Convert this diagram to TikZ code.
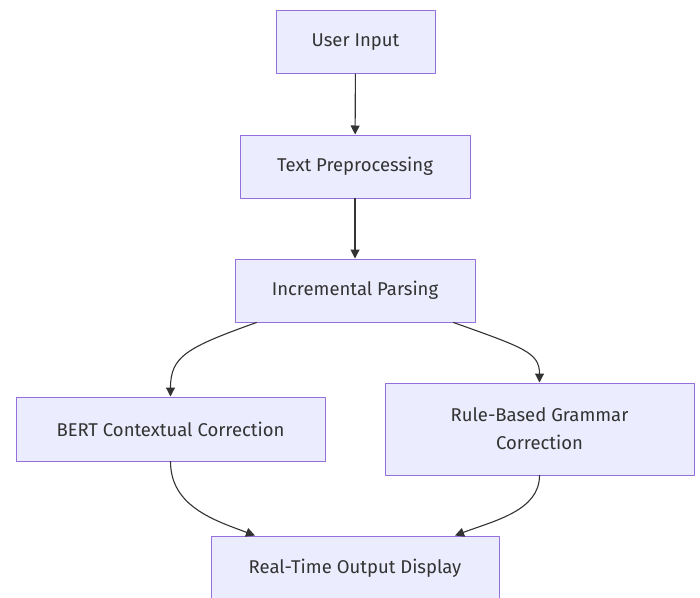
\documentclass[tikz,border=0pt]{standalone}
\usepackage{fontspec}
\setmainfont{Fira Sans}
\usetikzlibrary{arrows.meta}
\definecolor{boxfill}{HTML}{ECECFF}
\definecolor{boxline}{HTML}{9370DB}
\definecolor{ink}{HTML}{333333}
\begin{document}
\begin{tikzpicture}[x=1pt,y=-1pt,>={Triangle[length=9pt,width=9pt]}, font=\fontsize{18.5}{28}\selectfont, line join=round, line cap=round,
  box/.style={draw=boxline,fill=boxfill,line width=1pt,text=ink,align=center,inner sep=0pt,minimum height=63pt},
  flow/.style={->,draw=ink,line width=1.1pt}]
\useasboundingbox (0,0) rectangle (700,597);
\clip (0,0) rectangle (700,597);
% nodes
\node[box,minimum width=159pt] (inp) at (355.5,42) {User Input};
\node[box,minimum width=230pt] (pre) at (355,166.5) {Text Preprocessing};
\node[box,minimum width=240pt] (par) at (355,290.5) {Incremental Parsing};
\node[box,minimum width=309pt,minimum height=64pt] (bert) at (170.5,429) {BERT Contextual Correction};
\node[box,minimum width=309pt,minimum height=92pt] (rule) at (539.5,429) {Rule-Based Grammar\\Correction};
\node[box,minimum width=288pt,minimum height=64pt] (out) at (355,568) {Real-Time Output Display};
% edges
\draw[flow] (inp) -- (pre);
\draw[flow] (pre) -- (par);
\draw[flow] (par.198) .. controls +(-70,25) and +(0,-40) .. (bert.north);
\draw[flow] (par.342) .. controls +(70,25) and +(0,-30) .. (rule.north);
\draw[flow] (bert.south) .. controls +(0,45) and +(-40,-15) .. (out.162);
\draw[flow] (rule.south) .. controls +(0,35) and +(40,-15) .. (out.18);
\end{tikzpicture}
\end{document}
